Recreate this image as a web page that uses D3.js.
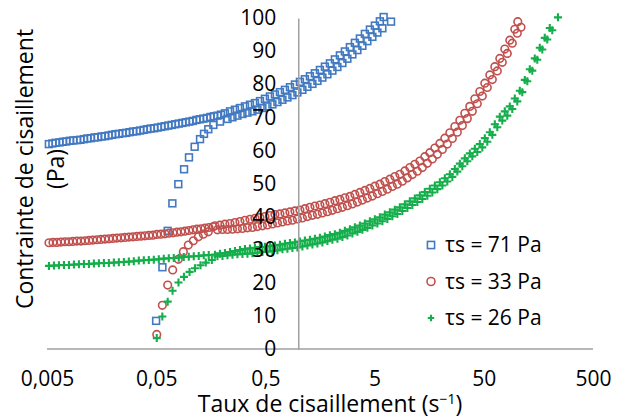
<!DOCTYPE html>
<html>
<head>
<meta charset="utf-8">
<script src="https://cdnjs.cloudflare.com/ajax/libs/d3/7.8.5/d3.min.js"></script>
<style>
    body { margin: 0; background: #fff; }
    svg text { font-family: "Open Sans", sans-serif; fill: #000; }
</style>
</head>
<body>
<div id="vis-flow"></div>
<script>
/* ****** Data (shear rate in s-1, shear stress in Pa) ****** */
var labels = ["τs = 71 Pa", "τs = 33 Pa", "τs = 26 Pa"];
var xTicks = [0.005, 0.05, 0.5, 5, 50, 500];
var yTicks = [0, 10, 20, 30, 40, 50, 60, 70, 80, 90, 100];

var rate71 = [
    // low-rate branch
    0.0052, 0.0056, 0.0060, 0.0065, 0.0070, 0.0075, 0.0081, 0.0087, 0.0094, 0.0101, 0.0109, 0.0117, 0.0126, 0.0136, 0.0146, 0.0158, 0.0170,
    0.0183, 0.0197, 0.0212, 0.0228, 0.0246, 0.0265, 0.0285, 0.0307, 0.0331, 0.0356, 0.0384, 0.0413, 0.0445, 0.0479, 0.0516, 0.0556, 0.0599,
    0.0645, 0.0694, 0.0748, 0.0805, 0.0867, 0.0934, 0.1006, 0.1083, 0.1167, 0.1257, 0.1353, 0.1457, 0.1570, 0.1690, 0.1820, 0.1960,
    // upper row
    0.213, 0.237, 0.263, 0.292, 0.325, 0.361, 0.401, 0.446, 0.495, 0.550, 0.611, 0.679, 0.755, 0.839, 0.932, 1.035, 1.150, 1.278, 1.420,
    1.578, 1.753, 1.948, 2.164, 2.405, 2.672, 2.969, 3.299, 3.666, 4.073, 4.526, 5.029, 5.587, 6.05,
    // start-up branch
    0.0499, 0.0570, 0.0637, 0.0703, 0.0797, 0.0900, 0.0998, 0.1125, 0.1260, 0.1370, 0.1500, 0.1670, 0.1920,
    // lower row
    0.2246, 0.2496, 0.2773, 0.3081, 0.3423, 0.3804, 0.4227, 0.4697, 0.5218, 0.5798, 0.6443, 0.7159, 0.7954, 0.8838, 0.9820, 1.091, 1.212,
    1.347, 1.497, 1.663, 1.848, 2.053, 2.281, 2.535, 2.816, 3.129, 3.477, 3.864, 4.293, 4.770, 5.300, 5.889, 7.07
];
var stress71 = [
    61.9, 62.1, 62.3, 62.4, 62.6, 62.7, 62.9, 63.0, 63.1, 63.2, 63.4, 63.6, 63.7, 63.9, 64.0, 64.2, 64.3,
    64.5, 64.7, 64.9, 65.0, 65.2, 65.3, 65.5, 65.7, 65.8, 66.0, 66.2, 66.4, 66.6, 66.7, 66.9, 67.1, 67.3,
    67.5, 67.7, 67.9, 68.1, 68.3, 68.5, 68.7, 68.9, 69.2, 69.4, 69.6, 69.8, 70.1, 70.3, 70.5, 70.8,
    71.2, 71.8, 72.3, 72.8, 73.3, 73.8, 74.3, 74.9, 75.6, 76.3, 76.9, 77.6, 78.3, 79.1, 79.9, 80.7, 81.5, 82.4, 83.3,
    84.3, 85.3, 86.3, 87.5, 88.7, 89.9, 91.2, 92.5, 93.8, 95.2, 96.5, 97.7, 99.0, 100.3,
    8.5, 24.7, 35.7, 44.0, 49.8, 54.3, 57.9, 61.1, 63.4, 65.0, 66.4, 67.7, 68.7,
    69.5, 70.0, 70.5, 71.0, 71.4, 71.8, 72.3, 72.8, 73.3, 73.9, 74.6, 75.3, 76.0, 76.7, 77.5, 78.3, 79.2,
    80.1, 81.0, 82.0, 83.0, 84.1, 85.2, 86.4, 87.7, 89.0, 90.3, 91.6, 93.0, 94.3, 95.6, 96.9, 98.9
];

var rate33 = [
    // low-rate branch
    0.00521, 0.00567, 0.00617, 0.00671, 0.00730, 0.00794, 0.00864, 0.00940, 0.01023, 0.01113, 0.01211, 0.01318, 0.01434, 0.01560,
    0.01697, 0.01846, 0.02009, 0.02186, 0.02378, 0.02587, 0.02815, 0.03063, 0.03332, 0.03626, 0.03945, 0.04292, 0.04670, 0.05081,
    0.05528, 0.06014, 0.06544, 0.07120, 0.07746, 0.08428, 0.09170, 0.09977, 0.1086, 0.1181, 0.1285, 0.1398, 0.1521, 0.1655,
    // start-up branch
    0.0506, 0.0569, 0.0637, 0.0708, 0.0797, 0.0886, 0.0984, 0.1094, 0.1216, 0.1350, 0.1500,
    // upper row
    0.1726, 0.1918, 0.2131, 0.2368, 0.2631, 0.2923, 0.3248, 0.3609, 0.4010, 0.4456, 0.4951, 0.5501, 0.6113, 0.6792, 0.7546, 0.8385,
    0.9317, 1.035, 1.150, 1.278, 1.420, 1.578, 1.753, 1.948, 2.164, 2.405, 2.672, 2.969, 3.299, 3.666, 4.073, 4.526, 5.029, 5.587,
    6.208, 6.898, 7.665, 8.517, 9.463, 10.51, 11.68, 12.98, 14.42, 16.03, 17.81, 19.79, 21.98, 24.43, 27.14, 30.16, 33.51, 37.23,
    41.37, 45.97, 51.08, 56.75, 63.06, 70.07, 77.85, 86.50, 96.11, 102.4,
    // lower row
    0.1819, 0.2022, 0.2246, 0.2496, 0.2773, 0.3081, 0.3423, 0.3804, 0.4227, 0.4697, 0.5218, 0.5798, 0.6443, 0.7159, 0.7954, 0.8838,
    0.9820, 1.091, 1.212, 1.347, 1.497, 1.663, 1.848, 2.053, 2.281, 2.535, 2.816, 3.129, 3.477, 3.864, 4.293, 4.770, 5.300, 5.889,
    6.543, 7.270, 8.078, 8.977, 9.974, 11.08, 12.31, 13.68, 15.20, 16.89, 18.77, 20.86, 23.17, 25.75, 28.61, 31.79, 35.32, 39.24,
    43.60, 48.45, 53.84, 59.82, 66.47, 73.85, 82.06, 91.18, 101.3, 109.6
];
var stress33 = [
    32.1, 32.2, 32.2, 32.3, 32.4, 32.4, 32.5, 32.6, 32.6, 32.7, 32.8, 32.9, 33.0, 33.1,
    33.2, 33.3, 33.4, 33.5, 33.6, 33.7, 33.8, 33.9, 34.0, 34.1, 34.2, 34.3, 34.4, 34.6,
    34.7, 34.8, 35.0, 35.1, 35.3, 35.4, 35.6, 35.8, 36.0, 36.2, 36.3, 36.5, 36.7, 36.9,
    4.4, 13.2, 19.3, 23.9, 27.1, 29.4, 31.4, 32.7, 33.9, 34.7, 35.4,
    37.2, 37.4, 37.7, 37.9, 38.2, 38.5, 38.9, 39.2, 39.5, 39.7, 40.0, 40.3, 40.6, 40.8, 41.1, 41.4,
    41.7, 42.0, 42.4, 42.8, 43.2, 43.5, 43.9, 44.3, 44.8, 45.2, 45.7, 46.1, 46.7, 47.3, 47.9, 48.5, 49.2, 49.8,
    50.6, 51.3, 52.1, 52.8, 53.8, 54.8, 55.8, 56.8, 58.1, 59.3, 60.7, 62.1, 63.7, 65.3, 67.2, 69.1, 71.2, 73.3,
    75.6, 77.8, 80.3, 82.8, 85.3, 87.8, 90.6, 93.3, 96.6, 98.9,
    36.0, 36.1, 36.1, 36.2, 36.3, 36.4, 36.6, 36.7, 37.0, 37.2, 37.5, 37.8, 38.1, 38.4, 38.7, 38.9,
    39.3, 39.6, 40.0, 40.4, 40.7, 41.1, 41.5, 41.9, 42.4, 42.8, 43.3, 43.8, 44.4, 45.0, 45.6, 46.2, 46.9, 47.6,
    48.3, 49.1, 49.8, 50.7, 51.7, 52.7, 53.7, 54.8, 56.1, 57.4, 58.8, 60.3, 61.9, 63.6, 65.5, 67.5, 69.6, 71.8,
    74.1, 76.4, 79.0, 81.4, 84.0, 86.6, 89.3, 92.4, 95.4, 97.2
];

var rate26 = [
    // low-rate branch
    0.00521, 0.00579, 0.00643, 0.00715, 0.00794, 0.00882, 0.00980, 0.01089, 0.01210, 0.01344, 0.01493, 0.01659, 0.01843, 0.02048,
    0.02275, 0.02528, 0.02808, 0.03120, 0.03466, 0.03851, 0.04279, 0.04754, 0.05282, 0.05868, 0.06519, 0.07243, 0.08047, 0.08940,
    0.09933, 0.1104, 0.1226, 0.1362, 0.1514,
    // start-up branch
    0.0506, 0.0569, 0.0637, 0.0706, 0.0800, 0.0898, 0.1010, 0.1132, 0.1272, 0.1423, 0.1617,
    // upper row
    0.1726, 0.1918, 0.2131, 0.2368, 0.2631, 0.2923, 0.3248, 0.3609, 0.4010, 0.4456, 0.4951, 0.5501, 0.6113, 0.6792, 0.7546, 0.8385,
    0.9317, 1.035, 1.150, 1.278, 1.420, 1.578, 1.753, 1.948, 2.164, 2.405, 2.672, 2.969, 3.299, 3.666, 4.073, 4.526, 5.029, 5.587,
    6.208, 6.898, 7.665, 8.517, 9.463, 10.51, 11.68, 12.98, 14.42, 16.03, 17.81, 19.79, 21.98, 24.43, 27.14, 30.16, 33.51, 37.23,
    41.37, 45.97, 51.08, 56.75, 63.06, 70.07, 77.85, 86.50, 96.11, 106.8, 118.7, 131.9, 146.5, 162.8, 180.9, 201.0, 238.8,
    // lower row
    0.1819, 0.2022, 0.2246, 0.2496, 0.2773, 0.3081, 0.3423, 0.3804, 0.4227, 0.4697, 0.5218, 0.5798, 0.6443, 0.7159, 0.7954, 0.8838,
    0.9820, 1.091, 1.212, 1.347, 1.497, 1.663, 1.848, 2.053, 2.281, 2.535, 2.816, 3.129, 3.477, 3.864, 4.293, 4.770, 5.300, 5.889,
    6.543, 7.270, 8.078, 8.977, 9.974, 11.08, 12.31, 13.68, 15.20, 16.89, 18.77, 20.86, 23.17, 25.75, 28.61, 31.79, 35.32, 39.24,
    43.60, 48.45, 53.84, 59.82, 66.47, 73.85, 82.06, 91.18, 101.3, 112.6, 125.1, 139.0, 154.4, 171.6, 190.6, 211.8
];
var stress26 = [
    25.1, 25.2, 25.3, 25.4, 25.4, 25.5, 25.6, 25.7, 25.7, 25.8, 25.9, 26.0, 26.0, 26.1,
    26.2, 26.3, 26.4, 26.5, 26.7, 26.8, 26.9, 27.0, 27.1, 27.3, 27.4, 27.5, 27.6, 27.8,
    27.9, 28.0, 28.1, 28.3, 28.4,
    3.3, 9.8, 14.3, 17.6, 20.1, 21.8, 23.3, 24.4, 25.3, 26.1, 26.9,
    28.5, 28.8, 29.0, 29.3, 29.6, 29.9, 30.2, 30.4, 30.6, 30.8, 30.9, 31.1, 31.3, 31.5, 31.8, 32.0,
    32.2, 32.5, 32.8, 33.0, 33.3, 33.6, 34.0, 34.4, 34.7, 35.1, 35.7, 36.2, 36.8, 37.3, 37.9, 38.6, 39.2, 39.8,
    40.6, 41.3, 42.1, 42.8, 43.7, 44.6, 45.5, 46.4, 47.4, 48.4, 49.4, 50.4, 51.6, 52.8, 54.4, 56.0, 57.6, 59.1,
    60.5, 61.9, 63.7, 65.5, 67.9, 70.2, 71.8, 73.3, 75.7, 78.0, 81.3, 84.5, 87.8, 91.0, 94.0, 97.0, 100.2,
    28.0, 28.1, 28.3, 28.5, 28.6, 28.7, 28.8, 28.9, 29.1, 29.3, 29.4, 29.6, 29.8, 30.1, 30.3, 30.5,
    30.7, 31.0, 31.3, 31.6, 31.9, 32.2, 32.6, 33.0, 33.3, 33.8, 34.3, 34.9, 35.4, 36.0, 36.6, 37.3, 37.9, 38.6,
    39.3, 40.1, 40.8, 41.7, 42.6, 43.5, 44.4, 45.3, 46.3, 47.3, 48.3, 49.4, 50.6, 52.0, 53.6, 55.2, 56.7, 58.2,
    59.5, 60.9, 62.6, 64.7, 67.0, 69.0, 70.5, 72.5, 74.8, 77.6, 80.9, 84.1, 87.4, 90.5, 93.5, 96.3
];

/* ****** Graph Margins ****** */
var width = 622;
var height = 418;

var margin = {
    top: 18,
    right: 29,
    bottom: 69,
    left: 47
};

var series = [
    { label: labels[0], rate: rate71, stress: stress71, shape: "square", color: "#4279C0" },
    { label: labels[1], rate: rate33, stress: stress33, shape: "circle", color: "#C0504D" },
    { label: labels[2], rate: rate26, stress: stress26, shape: "plus", color: "#14AE4B" }
];

/* ****** Append SVG ****** */
var svg = d3.select("#vis-flow")
    .append("svg")
    .attr("width", width)
    .attr("height", height);

/* ****** Scales ****** */
var x = d3.scaleLog()
    .domain([0.005, 500])
    .range([margin.left, width - margin.right]);

var y = d3.scaleLinear()
    .domain([0, 100])
    .range([height - margin.bottom, margin.top]);

var fmt = function(d) { return String(d).replace(".", ","); };

/* ****** Axes ****** */
var xAxis = svg.append("g")
    .attr("transform", "translate(0," + y(0) + ")")
    .call(d3.axisBottom(x).tickValues(xTicks).tickFormat(fmt).tickSize(0).tickPadding(22));

var yAxis = svg.append("g")
    .attr("transform", "translate(" + x(1) + ",0)")
    .call(d3.axisLeft(y).tickValues(yTicks).tickSize(0).tickPadding(22));

svg.selectAll(".domain")
    .attr("stroke", "#a0a0a0")
    .attr("stroke-width", 1.5);

/* ****** Markers ****** */
var drawMarker = function(sel, shape, color, s) {
    if (shape === "square") {
        sel.append("rect")
            .attr("x", -3.4 * s).attr("y", -3.4 * s)
            .attr("width", 6.8 * s).attr("height", 6.8 * s)
            .attr("fill", "none").attr("stroke", color).attr("stroke-width", 1.6);
    } else if (shape === "circle") {
        sel.append("circle")
            .attr("r", 3.8 * s)
            .attr("fill", "none").attr("stroke", color).attr("stroke-width", 1.6);
    } else {
        var h = 4 * s;
        sel.append("path")
            .attr("d", "M" + (-h) + ",0H" + h + "M0," + (-h) + "V" + h)
            .attr("fill", "none").attr("stroke", color).attr("stroke-width", 2.1);
    }
};

var plot = svg.append("g").attr("id", "points");

series.forEach(function(s) {
    var pts = d3.zip(s.rate, s.stress);
    var g = plot.append("g");
    g.selectAll("g")
        .data(pts)
        .enter()
        .append("g")
        .attr("transform", function(d) { return "translate(" + x(d[0]) + "," + y(d[1]) + ")"; })
        .each(function() { drawMarker(d3.select(this), s.shape, s.color, 1); });
});

// tick labels sit on top of the points
xAxis.raise();
yAxis.raise();
svg.selectAll(".tick text")
    .attr("font-size", 21);
xAxis.selectAll(".domain").remove();
svg.append("line")
    .attr("x1", x(0.005)).attr("x2", x(500))
    .attr("y1", y(0)).attr("y2", y(0))
    .attr("stroke", "#a0a0a0").attr("stroke-width", 1.5)
    .lower();

/* ****** Legend ****** */
var legend = svg.append("g")
    .attr("transform", "translate(431,245)");

series.forEach(function(s, i) {
    var row = legend.append("g")
        .attr("transform", "translate(0," + (i * 36.5) + ")");
    drawMarker(row.append("g"), s.shape, s.color, s.shape === "plus" ? 0.8 : 1.05);
    row.append("text")
        .attr("x", 14)
        .attr("dy", "0.35em")
        .attr("font-size", 21)
        .text(s.label);
});

/* ****** Axis titles ****** */
var xTitle = svg.append("text")
    .attr("x", 330)
    .attr("y", 412)
    .attr("text-anchor", "middle")
    .attr("font-size", 23)
    .text("Taux de cisaillement (s");
xTitle.append("tspan")
    .attr("dy", -8)
    .attr("font-size", 14)
    .text("−1");
xTitle.append("tspan")
    .attr("dy", 8)
    .text(")");

svg.append("text")
    .attr("transform", "translate(33,169) rotate(-90)")
    .attr("text-anchor", "middle")
    .attr("font-size", 23)
    .text("Contrainte de cisaillement");

svg.append("text")
    .attr("transform", "translate(64,169) rotate(-90)")
    .attr("text-anchor", "middle")
    .attr("font-size", 23)
    .text("(Pa)");
</script>
</body>
</html>
